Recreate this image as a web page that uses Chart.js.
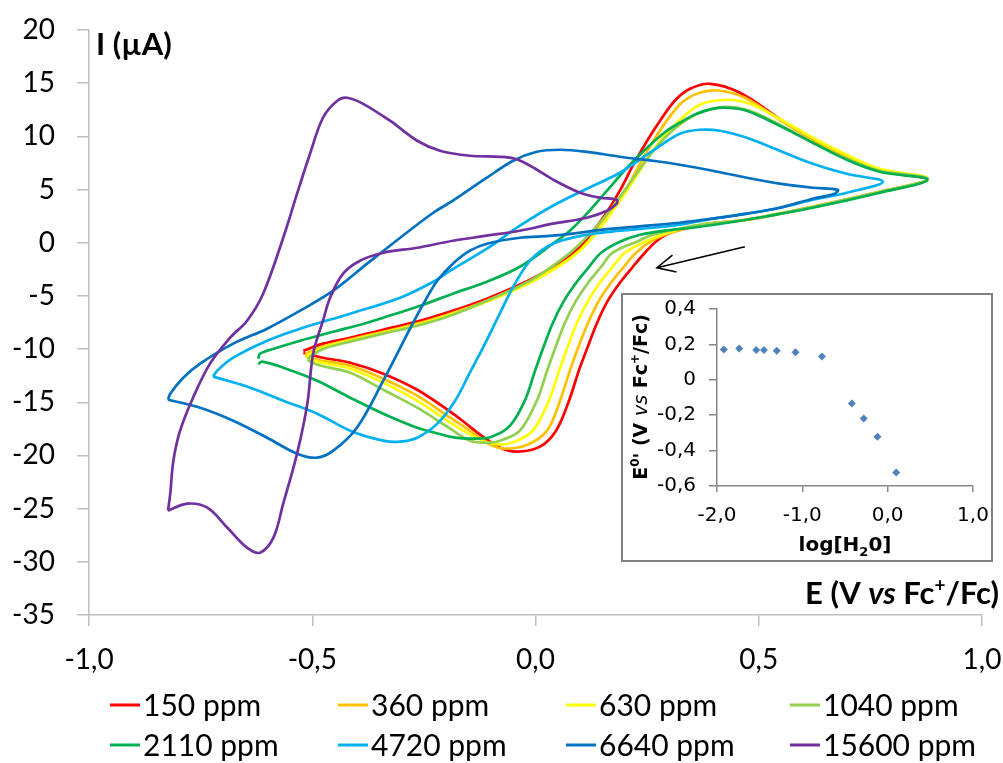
<!DOCTYPE html>
<html>
<head>
<meta charset="utf-8">
<script src="https://cdn.jsdelivr.net/npm/chart.js@4.4.1/dist/chart.umd.min.js"></script>
<style>
  html, body { margin: 0; padding: 0; background: #fff; }
  #wrap { position: relative; width: 1003px; height: 763px; }
  #main { position: absolute; left: 0; top: 0; }
  #insetBox { position: absolute; left: 621px; top: 293px; width: 368px; height: 265px;
              border: 2px solid #808080; background: #fff; }
</style>
</head>
<body>
<div id="wrap">
  <canvas id="main" width="1003" height="763"></canvas>
  <div id="insetBox"><canvas id="inset" width="368" height="265"></canvas></div>
</div>
<script>
// E (V vs Fc+/Fc) and I (uA) for each water content
const e150 = [-0.520, -0.476, -0.415, -0.341, -0.265, -0.191, -0.109, -0.012, 0.055, 0.100, 0.133, 0.162, 0.189, 0.218, 0.250, 0.279, 0.312, 0.346, 0.391, 0.458, 0.547, 0.621, 0.697, 0.771, 0.876,
  0.771, 0.621, 0.473, 0.391, 0.335, 0.297, 0.272, 0.245, 0.218, 0.189, 0.162, 0.138, 0.118, 0.097, 0.075, 0.046, 0.010, -0.041, -0.079, -0.124, -0.158, -0.191, -0.265, -0.341, -0.415, -0.476, -0.520];
const i150 = [-10.15, -9.49, -8.93, -8.18, -7.42, -6.48, -5.26, -3.48, -1.88, -0.38, 1.32, 3.01, 4.89, 7.24, 9.59, 11.47, 13.35, 14.47, 14.94, 14.10, 11.65, 9.68, 8.08, 6.77, 5.92,
  4.79, 3.38, 2.16, 1.79, 1.32, 0.85, 0.19, -0.94, -2.26, -3.76, -5.45, -7.52, -9.68, -12.03, -14.85, -17.67, -19.17, -19.64, -19.27, -18.05, -16.92, -15.88, -13.82, -12.31, -11.28, -10.81, -10.34];

const e360 = [-0.516, -0.476, -0.415, -0.341, -0.265, -0.191, -0.109, -0.012, 0.055, 0.100, 0.138, 0.171, 0.205, 0.234, 0.267, 0.297, 0.330, 0.368, 0.413, 0.469, 0.547, 0.621, 0.697, 0.771, 0.878,
  0.771, 0.621, 0.473, 0.391, 0.335, 0.297, 0.261, 0.225, 0.198, 0.169, 0.142, 0.118, 0.097, 0.077, 0.055, 0.026, -0.017, -0.064, -0.102, -0.147, -0.191, -0.265, -0.341, -0.415, -0.489, -0.516];
const i360 = [-10.43, -9.77, -9.10, -8.37, -7.61, -6.67, -5.45, -3.67, -2.07, -0.66, 1.13, 3.01, 5.17, 7.42, 9.77, 11.65, 13.25, 14.10, 14.29, 13.63, 11.56, 9.68, 8.08, 6.86, 6.02,
  4.79, 3.38, 2.16, 1.79, 1.32, 0.85, 0.19, -0.94, -2.26, -3.76, -5.45, -7.52, -9.68, -12.03, -14.85, -17.67, -18.98, -19.36, -18.98, -17.67, -16.45, -14.38, -12.78, -11.56, -11.00, -10.62];

const e630 = [-0.514, -0.476, -0.415, -0.341, -0.265, -0.191, -0.109, -0.012, 0.055, 0.104, 0.144, 0.178, 0.212, 0.245, 0.279, 0.317, 0.368, 0.429, 0.480, 0.547, 0.621, 0.697, 0.771, 0.878,
  0.771, 0.621, 0.473, 0.391, 0.335, 0.290, 0.250, 0.200, 0.173, 0.144, 0.118, 0.093, 0.073, 0.053, 0.030, -0.006, -0.046, -0.079, -0.113, -0.158, -0.191, -0.265, -0.341, -0.415, -0.489, -0.514];
const i630 = [-10.62, -9.87, -9.21, -8.46, -7.71, -6.77, -5.55, -3.76, -2.16, -0.56, 1.32, 3.29, 5.36, 7.52, 9.59, 11.28, 12.97, 13.44, 13.06, 11.65, 9.87, 8.27, 6.95, 6.02,
  4.79, 3.38, 2.16, 1.79, 1.41, 0.85, 0.19, -0.94, -2.26, -3.76, -5.45, -7.52, -9.68, -12.03, -14.85, -17.67, -18.70, -18.98, -18.70, -17.76, -16.92, -14.85, -13.16, -11.84, -11.18, -10.71];

const e1040 = [-0.511, -0.476, -0.415, -0.341, -0.265, -0.191, -0.109, -0.012, 0.055, 0.100, 0.144, 0.178, 0.212, 0.250, 0.290, 0.335, 0.379, 0.429, 0.480, 0.547, 0.621, 0.697, 0.771, 0.878,
  0.771, 0.621, 0.473, 0.368, 0.301, 0.256, 0.232, 0.173, 0.147, 0.118, 0.091, 0.066, 0.046, 0.026, 0.003, -0.035, -0.073, -0.102, -0.147, -0.191, -0.265, -0.341, -0.415, -0.489, -0.511];
const i1040 = [-10.90, -10.00, -9.30, -8.55, -7.80, -6.86, -5.45, -3.57, -1.69, -0.09, 1.88, 3.67, 5.64, 7.89, 9.87, 11.47, 12.41, 12.78, 12.41, 11.09, 9.40, 7.89, 6.77, 6.02,
  4.79, 3.38, 2.16, 1.69, 1.13, 0.66, 0.19, -0.94, -2.26, -3.76, -5.45, -7.52, -9.68, -12.03, -14.85, -17.67, -18.52, -18.80, -18.61, -17.48, -15.51, -13.82, -12.22, -11.47, -11.00];

const e2110 = [-0.621, -0.617, -0.579, -0.527, -0.453, -0.377, -0.341, -0.258, -0.185, -0.109, -0.035, 0.039, 0.077, 0.115, 0.160, 0.205, 0.250, 0.294, 0.323, 0.361, 0.397, 0.429, 0.473, 0.547, 0.621, 0.697, 0.771, 0.878,
  0.771, 0.621, 0.473, 0.368, 0.290, 0.234, 0.189, 0.147, 0.120, 0.091, 0.064, 0.039, 0.019, -0.001, -0.024, -0.057, -0.098, -0.135, -0.180, -0.225, -0.265, -0.341, -0.415, -0.489, -0.565, -0.612, -0.621];
const i2110 = [-10.90, -10.43, -9.87, -9.21, -8.37, -7.52, -7.05, -5.92, -4.79, -3.67, -2.26, -0.09, 1.13, 2.73, 4.89, 7.05, 8.93, 10.53, 11.28, 12.12, 12.59, 12.69, 12.41, 11.00, 9.40, 7.80, 6.67, 5.92,
  4.70, 3.29, 2.16, 1.50, 1.13, 0.75, 0.09, -0.94, -2.26, -3.76, -5.45, -7.52, -9.68, -12.03, -14.85, -17.20, -18.24, -18.42, -18.33, -17.86, -17.39, -16.07, -14.57, -12.97, -11.75, -11.18, -11.40];

const e4720 = [-0.722, -0.713, -0.677, -0.601, -0.527, -0.415, -0.303, -0.229, -0.191, -0.109, -0.035, 0.039, 0.115, 0.189, 0.263, 0.323, 0.368, 0.413, 0.473, 0.547, 0.621, 0.697, 0.778,
  0.697, 0.621, 0.547, 0.473, 0.397, 0.323, 0.263, 0.189, 0.115, 0.039, -0.008, -0.046, -0.079, -0.113, -0.147, -0.180, -0.220, -0.265, -0.303, -0.341, -0.415, -0.489, -0.565, -0.639, -0.722];
const i4720 = [-12.59, -12.03, -10.81, -9.21, -8.08, -6.67, -5.17, -3.67, -2.63, -0.56, 1.60, 3.48, 5.08, 6.58, 8.65, 10.24, 10.62, 10.53, 9.87, 8.65, 7.42, 6.48, 5.73,
  4.70, 4.04, 3.29, 2.73, 2.26, 1.69, 1.41, 1.13, 0.75, -0.09, -1.50, -3.85, -6.58, -9.49, -12.22, -14.85, -17.01, -18.33, -18.70, -18.61, -17.67, -16.07, -14.85, -13.63, -12.59];

const e6640 = [-0.823, -0.818, -0.789, -0.751, -0.677, -0.601, -0.527, -0.453, -0.377, -0.303, -0.229, -0.185, -0.109, -0.050, 0.003, 0.055, 0.115, 0.189, 0.263, 0.323, 0.397, 0.473, 0.547, 0.621, 0.677,
  0.670, 0.621, 0.547, 0.473, 0.397, 0.323, 0.173, 0.039, -0.035, -0.109, -0.147, -0.185, -0.220, -0.247, -0.281, -0.341, -0.400, -0.453, -0.489, -0.534, -0.601, -0.677, -0.751, -0.823];
const i6640 = [-14.76, -14.19, -12.69, -11.37, -9.49, -8.08, -6.39, -4.51, -1.97, 0.47, 2.82, 3.95, 6.11, 7.71, 8.55, 8.74, 8.55, 8.08, 7.71, 7.33, 6.77, 6.11, 5.55, 5.17, 4.98,
  4.61, 4.14, 3.29, 2.73, 2.26, 1.88, 1.32, 0.66, 0.47, -0.09, -0.75, -1.97, -3.57, -5.45, -8.08, -12.97, -17.39, -19.55, -20.21, -19.83, -18.33, -16.73, -15.51, -14.76];

const e15600 = [-0.823, -0.818, -0.811, -0.796, -0.767, -0.729, -0.684, -0.646, -0.610, -0.565, -0.534, -0.505, -0.476, -0.444, -0.422, -0.386, -0.326, -0.265, -0.214, -0.147, -0.079, -0.046, -0.012, 0.044, 0.100, 0.144, 0.182,
  0.182, 0.160, 0.115, 0.039, -0.035, -0.109, -0.185, -0.265, -0.341, -0.393, -0.431, -0.460, -0.476, -0.498, -0.511, -0.534, -0.565, -0.587, -0.617, -0.646, -0.690, -0.735, -0.780, -0.823];
const i15600 = [-25.19, -23.59, -20.49, -17.67, -14.57, -11.37, -8.93, -7.33, -4.79, 0.47, 4.61, 8.36, 11.75, 13.35, 13.63, 13.06, 11.47, 9.59, 8.65, 8.18, 8.08, 7.89, 7.24, 5.83, 4.70, 4.23, 4.04,
  3.67, 3.01, 2.35, 1.79, 1.13, 0.66, 0.19, -0.47, -0.94, -1.69, -2.91, -5.17, -7.33, -10.43, -15.13, -19.83, -24.53, -27.73, -29.14, -28.67, -26.79, -24.91, -24.53, -25.19];

const seriesLabels = ['150 ppm', '360 ppm', '630 ppm', '1040 ppm', '2110 ppm', '4720 ppm', '6640 ppm', '15600 ppm'];
const seriesColors = ['#ff0000', '#ffc000', '#ffff00', '#92d050', '#00b050', '#00b0f0', '#0070c0', '#7030a0'];
const seriesE = [e150, e360, e630, e1040, e2110, e4720, e6640, e15600];
const seriesI = [i150, i360, i630, i1040, i2110, i4720, i6640, i15600];

// inset: formal potential against log of water content
const logH2O = [-1.92, -1.74, -1.54, -1.45, -1.30, -1.08, -0.77, -0.42, -0.28, -0.12, 0.10];
const e0 = [0.171, 0.177, 0.168, 0.168, 0.164, 0.156, 0.132, -0.134, -0.218, -0.322, -0.524];

const FONT = 'Lato, "Open Sans", sans-serif';
const commaNum = v => v.toFixed(1).replace('.', ',');

// writes a label made of pieces with their own font / vertical shift
function drawParts(ctx, parts, x, y, align) {
  let w = 0;
  parts.forEach(p => { ctx.font = p.font; p.w = ctx.measureText(p.t).width; w += p.w; });
  let cx = align === 'right' ? x - w : (align === 'center' ? x - w / 2 : x);
  ctx.textAlign = 'left';
  ctx.textBaseline = 'alphabetic';
  parts.forEach(p => { ctx.font = p.font; ctx.fillText(p.t, cx, y + (p.dy || 0)); cx += p.w; });
}

// fixed axis sizes, and no extra room for the end labels
const fixX = h => s => { s.height = h; s.paddingLeft = 0; s.paddingRight = 0; };
const fixY = w => s => { s.width = w; s.paddingTop = 0; s.paddingBottom = 0; };

const mainDecor = {
  id: 'mainDecor',
  afterDraw(chart) {
    const ctx = chart.ctx;
    const xs = chart.scales.x, ys = chart.scales.y;
    ctx.save();
    ctx.fillStyle = '#000';

    // axis titles sit inside the plot
    drawParts(ctx, [{ t: 'I (µA)', font: 'bold 31px ' + FONT }], 96, 55, 'left');
    const b = 'bold 31px ' + FONT;
    drawParts(ctx, [
      { t: 'E (V ', font: b },
      { t: 'vs', font: 'italic bold 31px ' + FONT },
      { t: ' Fc', font: b },
      { t: '+', font: 'bold 19px ' + FONT, dy: -12 },
      { t: '/Fc)', font: b }
    ], 999, 604, 'right');

    // arrow showing scan direction
    const x1 = xs.getPixelForValue(0.469), y1 = ys.getPixelForValue(-0.38);
    const x2 = xs.getPixelForValue(0.272), y2 = ys.getPixelForValue(-2.35);
    const ang = Math.atan2(y1 - y2, x1 - x2);
    ctx.strokeStyle = '#000';
    ctx.lineWidth = 1.6;
    ctx.beginPath();
    ctx.moveTo(x1, y1); ctx.lineTo(x2, y2);
    ctx.moveTo(x2 + 20 * Math.cos(ang + 0.45), y2 + 20 * Math.sin(ang + 0.45));
    ctx.lineTo(x2, y2);
    ctx.lineTo(x2 + 20 * Math.cos(ang - 0.45), y2 + 20 * Math.sin(ang - 0.45));
    ctx.stroke();

    // legend, 4 columns x 2 rows
    const colX = [110, 338, 566, 790];
    const rowY = [705, 745];
    ctx.font = '30px ' + FONT;
    ctx.textBaseline = 'middle';
    seriesLabels.forEach((lab, k) => {
      const lx = colX[k % 4], ly = rowY[Math.floor(k / 4)];
      ctx.strokeStyle = seriesColors[k];
      ctx.lineWidth = 3;
      ctx.beginPath(); ctx.moveTo(lx, ly); ctx.lineTo(lx + 30, ly); ctx.stroke();
      ctx.fillText(lab, lx + 33, ly + 1);
    });
    ctx.restore();
  }
};

const datasets = seriesLabels.map((label, k) => ({
  label,
  data: seriesE[k].map((e, j) => ({ x: e, y: seriesI[k][j] })),
  borderColor: seriesColors[k],
  backgroundColor: seriesColors[k],
  borderWidth: 2.7,
  showLine: true,
  pointRadius: 0,
  tension: 0.35,
  fill: false,
  order: -k
}));

new Chart(document.getElementById('main'), {
  type: 'scatter',
  data: { datasets },
  options: {
    responsive: false,
    animation: false,
    layout: { padding: { top: 30, right: 21, bottom: 88, left: 0 }, autoPadding: false },
    plugins: { legend: { display: false }, tooltip: { enabled: false } },
    scales: {
      x: {
        type: 'linear', min: -1, max: 1,
        ticks: { stepSize: 0.5, callback: v => commaNum(v), color: '#000', font: { family: FONT, size: 28 }, padding: 17, maxRotation: 0 },
        grid: { drawOnChartArea: false, tickLength: 11, color: '#bfbfbf', lineWidth: 1.5 },
        border: { color: '#bfbfbf', width: 1.5 },
        afterFit: fixX(60)
      },
      y: {
        type: 'linear', min: -35, max: 20,
        ticks: { stepSize: 5, callback: v => String(v), color: '#000', font: { family: FONT, size: 28 }, padding: 22 },
        grid: { drawOnChartArea: false, tickLength: 12, color: '#bfbfbf', lineWidth: 1.5 },
        border: { color: '#bfbfbf', width: 1.5 },
        afterFit: fixY(89)
      }
    }
  },
  plugins: [mainDecor]
});

const INSET_FONT = '"DejaVu Sans", sans-serif';
const insetDecor = {
  id: 'insetDecor',
  afterDraw(chart) {
    const ctx = chart.ctx;
    ctx.save();
    ctx.fillStyle = '#000';
    const b = 'bold 19px ' + INSET_FONT;
    ctx.translate(24, 102);
    ctx.rotate(-Math.PI / 2);
    drawParts(ctx, [
      { t: 'E', font: b },
      { t: '0', font: 'bold 12px ' + INSET_FONT, dy: -8 },
      { t: "' (V ", font: b },
      { t: 'vs', font: 'italic 19px ' + INSET_FONT },
      { t: ' Fc', font: b },
      { t: '+', font: 'bold 12px ' + INSET_FONT, dy: -8 },
      { t: '/Fc)', font: b }
    ], 0, 0, 'center');
    ctx.restore();
    ctx.save();
    ctx.fillStyle = '#000';
    const b2 = 'bold 20px ' + INSET_FONT;
    drawParts(ctx, [
      { t: 'log[H', font: b2 },
      { t: '2', font: 'bold 13px ' + INSET_FONT, dy: 5 },
      { t: '0]', font: b2 }
    ], 222, 256, 'center');
    ctx.restore();
  }
};

new Chart(document.getElementById('inset'), {
  type: 'scatter',
  data: {
    datasets: [{
      label: 'E0',
      data: logH2O.map((v, j) => ({ x: v, y: e0[j] })),
      pointStyle: 'rectRot',
      pointRadius: 4,
      borderWidth: 0,
      backgroundColor: '#4f81bd',
      borderColor: '#4f81bd'
    }]
  },
  options: {
    responsive: false,
    animation: false,
    layout: { padding: { top: 14, right: 18, bottom: 34, left: 0 }, autoPadding: false },
    plugins: { legend: { display: false }, tooltip: { enabled: false } },
    scales: {
      x: {
        type: 'linear', min: -2, max: 1,
        ticks: { stepSize: 1, callback: v => commaNum(v), color: '#000', font: { family: INSET_FONT, size: 20 }, padding: 12, maxRotation: 0 },
        grid: { drawOnChartArea: false, tickLength: 6, color: '#868686', lineWidth: 1.5 },
        border: { color: '#868686', width: 1.5 },
        afterFit: fixX(40)
      },
      y: {
        type: 'linear', min: -0.6, max: 0.4,
        ticks: { stepSize: 0.2, callback: v => Math.abs(v) < 1e-9 ? '0' : commaNum(v), color: '#000', font: { family: INSET_FONT, size: 20 }, padding: 13 },
        grid: { drawOnChartArea: false, tickLength: 8, color: '#868686', lineWidth: 1.5 },
        border: { color: '#868686', width: 1.5 },
        afterFit: fixY(94)
      }
    }
  },
  plugins: [insetDecor]
});
</script>
</body>
</html>
